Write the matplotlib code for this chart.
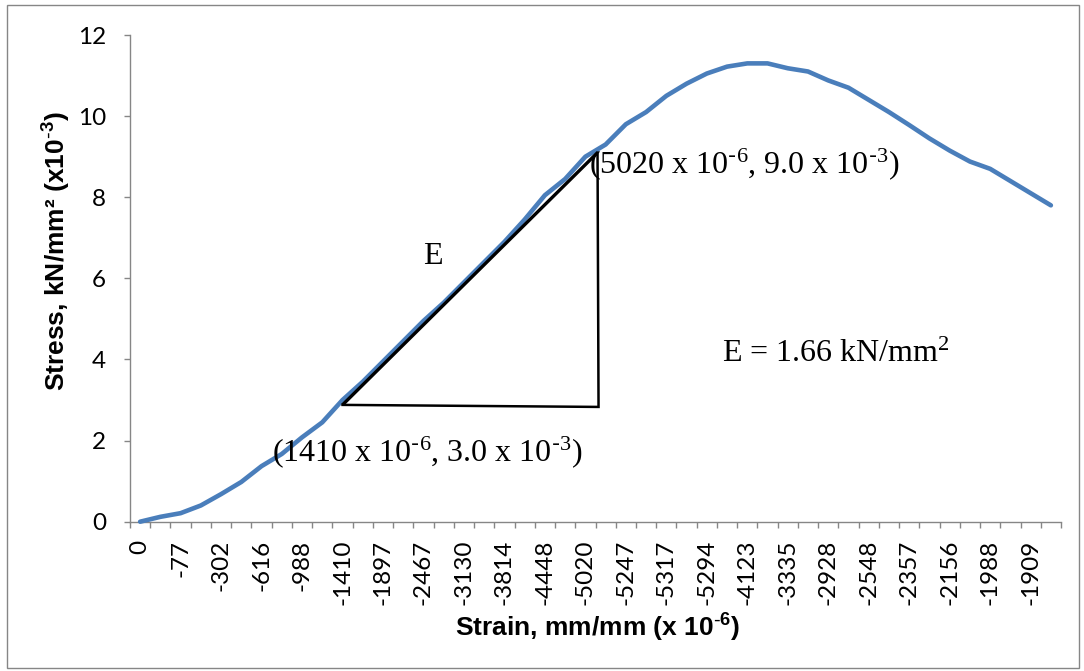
import matplotlib
matplotlib.use("Agg")
import matplotlib.pyplot as plt
from matplotlib.patches import Rectangle
from matplotlib.ticker import FixedLocator

# Strain readings (x 10^-6), one label for every second reading
strain_labels = ["0", "-77", "-302", "-616", "-988", "-1410", "-1897", "-2467",
                 "-3130", "-3814", "-4448", "-5020", "-5247", "-5317", "-5294",
                 "-4123", "-3335", "-2928", "-2548", "-2357", "-2156", "-1988",
                 "-1909"]
label_step = 2

# Stress readings (kN/mm^2 x 10^-3)
stress = [0.0, 0.12, 0.21, 0.4, 0.68, 0.98, 1.37, 1.67, 2.08, 2.45,
          3.0, 3.45, 3.95, 4.45, 4.95, 5.4, 5.9, 6.4, 6.9, 7.45,
          8.05, 8.45, 9.0, 9.3, 9.8, 10.1, 10.5, 10.8, 11.05, 11.22,
          11.3, 11.3, 11.18, 11.1, 10.88, 10.7, 10.4, 10.1, 9.78, 9.45,
          9.15, 8.88, 8.7, 8.4, 8.1, 7.8]
y_ticks = [0, 2, 4, 6, 8, 10, 12]

# Points used for the modulus triangle
lower_point = ("-1410", 3.0)
upper_point = ("-5020", 9.0)
modulus_text = r"E = 1.66 kN/mm$^{2}$"

plt.rcParams["mathtext.default"] = "regular"

fig = plt.figure(figsize=(10.84, 6.71), dpi=100)
ax = fig.add_axes([130 / 1084, 1 - 521.7 / 671, 931 / 1084, 486.7 / 671])

n = len(stress)
xs = list(range(n))
ax.plot(xs, stress, color="#4a7ebb", lw=3.3, solid_capstyle="round",
        solid_joinstyle="round", clip_on=False, zorder=3)

ax.set_xlim(-0.5, n - 0.5)
ax.set_ylim(0, 12)

grey = "#868686"
for side in ("top", "right"):
    ax.spines[side].set_visible(False)
for side in ("left", "bottom"):
    ax.spines[side].set_color(grey)
    ax.spines[side].set_linewidth(1.0)

tick_font = dict(family="Lato", size=17.5)
ax.set_yticks(y_ticks)
ax.set_yticklabels([str(v) for v in y_ticks], **tick_font)
ax.tick_params(axis="y", direction="out", length=4.3, width=1.0, color=grey,
               pad=13, labelcolor="black")

label_pos = [i * label_step for i in range(len(strain_labels))]
ax.set_xticks(label_pos)
ax.set_xticklabels(strain_labels, rotation=90, **tick_font)
ax.tick_params(axis="x", which="major", length=0, pad=13, labelcolor="black")
ax.xaxis.set_minor_locator(FixedLocator([i - 0.5 for i in range(n + 1)]))
ax.tick_params(axis="x", which="minor", direction="out", length=4.3,
               width=1.0, color=grey)

ax.set_xlabel(r"Strain, mm/mm (x 10$^{\text{-}6}$)", family="Liberation Sans",
              weight="bold", size=19, va="center")
ax.xaxis.set_label_coords(0.502, -0.218)
ax.set_ylabel(r"Stress, kN/mm² (x10$^{\text{-}3}$)", family="Liberation Sans",
              weight="bold", size=19, va="center")
ax.yaxis.set_label_coords(-0.078, 0.556)

# Modulus triangle
x_lo = strain_labels.index(lower_point[0]) * label_step
x_hi = strain_labels.index(upper_point[0]) * label_step + 0.6
y_lo = lower_point[1] - 0.12
y_hi = upper_point[1] + 0.1
ax.plot([x_lo, x_hi], [y_lo, y_hi], color="black", lw=2.4, zorder=4,
        solid_capstyle="butt")
ax.plot([x_lo, x_hi + 0.05, x_hi], [y_lo, y_lo - 0.05, y_hi], color="black",
        lw=1.8, zorder=4, solid_joinstyle="miter")

serif = dict(family="Liberation Serif", size=23, color="black", zorder=5)
ax.text(6.52, 1.50,
        rf"({lower_point[0][1:]} x 10$^{{\text{{-}}6}}$, "
        rf"{lower_point[1]:.1f} x 10$^{{\text{{-}}3}}$)",
        ha="left", va="baseline", **serif)
ax.text(22.2, 8.6,
        rf"({upper_point[0][1:]} x 10$^{{\text{{-}}6}}$, "
        rf"{upper_point[1]:.1f} x 10$^{{\text{{-}}3}}$)",
        ha="left", va="baseline", **serif)
ax.text(13.96, 6.35, "E", ha="left", va="baseline", **serif)
ax.text(28.75, 3.94, modulus_text, ha="left", va="baseline", **serif)

fig.patches.append(Rectangle((7 / 1084, 1 - 668 / 671), 1072 / 1084,
                             663 / 671, transform=fig.transFigure,
                             fill=False, ec=grey, lw=1.0))

fig.savefig("out.png", dpi=100, facecolor="white")
